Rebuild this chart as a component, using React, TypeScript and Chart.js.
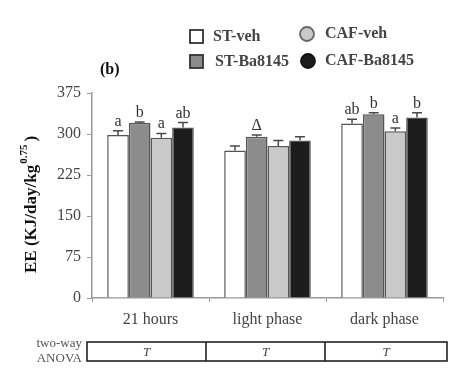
import React, { useEffect, useRef } from "react";
import { Chart, registerables } from "chart.js";

Chart.register(...registerables);

const categories = ["21 hours", "light phase", "dark phase"];
const seriesNames = ["ST-veh", "ST-Ba8145", "CAF-veh", "CAF-Ba8145"];
const stVeh = [298, 270, 319];
const stBa = [320, 295, 336];
const cafVeh = [293, 278, 305];
const cafBa = [312, 288, 330];
const stVehErr = [8, 8, 8];
const stBaErr = [2, 3, 3];
const cafVehErr = [8, 10, 6];
const cafBaErr = [9, 7, 9];
const sigLabels = [
  ["a", "", "ab"],
  ["b", "\u0394", "b"],
  ["a", "", "a"],
  ["ab", "", "b"],
];
const yTicks = [0, 75, 150, 225, 300, 375];
const anovaCells = ["T", "T", "T"];

const fills = ["#ffffff", "#8c8c8c", "#c9c9c9", "#1c1c1c"];
const SERIF = "'Liberation Serif', 'DejaVu Serif', serif";

export default function App() {
  const ref = useRef<HTMLCanvasElement | null>(null);
  useEffect(() => {
    const canvas = ref.current;
    if (!canvas) return;
    const values = [stVeh, stBa, cafVeh, cafBa];
    const errs = [stVehErr, stBaErr, cafVehErr, cafBaErr];

    const overlay = {
      id: "overlay",
      afterDatasetsDraw(chart: any) {
        const ctx = chart.ctx;
        const y = chart.scales.y;
        ctx.save();
        values.forEach((vals, di) => {
          const meta = chart.getDatasetMeta(di);
          meta.data.forEach((bar: any, i: number) => {
            const top = y.getPixelForValue(vals[i]);
            const et = y.getPixelForValue(vals[i] + errs[di][i]);
            ctx.strokeStyle = "#4a4a4a";
            ctx.lineWidth = 1.5;
            ctx.beginPath();
            ctx.moveTo(bar.x, top);
            ctx.lineTo(bar.x, et);
            ctx.moveTo(bar.x - 5, et);
            ctx.lineTo(bar.x + 5, et);
            ctx.stroke();
            const lab = sigLabels[di][i];
            if (lab) {
              ctx.fillStyle = "#333";
              ctx.font = `16px ${SERIF}`;
              ctx.textAlign = "center";
              ctx.textBaseline = "alphabetic";
              ctx.fillText(lab, bar.x, et - 5);
            }
          });
        });
        ctx.restore();
      },
      afterDraw(chart: any) {
        const ctx = chart.ctx;
        const x = chart.scales.x;
        const area = chart.chartArea;
        ctx.save();
        // y title
        ctx.translate(32, 205);
        ctx.rotate(-Math.PI / 2);
        ctx.fillStyle = "#111";
        ctx.textBaseline = "middle";
        const main = "EE (KJ/day/kg";
        const sup = "0.75";
        const close = ")";
        const mainFont = `bold 17px ${SERIF}`;
        const supFont = `bold 11px ${SERIF}`;
        ctx.font = mainFont;
        const w1 = ctx.measureText(main).width;
        ctx.font = supFont;
        const w2 = ctx.measureText(sup).width + 3;
        ctx.font = mainFont;
        const w3 = ctx.measureText(close).width;
        let sx = -(w1 + w2 + w3) / 2;
        ctx.textAlign = "left";
        ctx.fillText(main, sx, 0);
        sx += w1 + 1;
        ctx.font = supFont;
        ctx.fillText(sup, sx, -8);
        sx += w2;
        ctx.font = mainFont;
        ctx.fillText(close, sx, 0);
        ctx.restore();

        ctx.save();
        // (b)
        ctx.fillStyle = "#111";
        ctx.font = `bold 16px ${SERIF}`;
        ctx.textAlign = "left";
        ctx.textBaseline = "alphabetic";
        ctx.fillText("(b)", 100, 74);

        // legend
        ctx.lineWidth = 1.8;
        ctx.strokeStyle = "#333";
        ctx.fillStyle = fills[0];
        ctx.fillRect(190, 30, 13, 13);
        ctx.strokeRect(190, 30, 13, 13);
        ctx.fillStyle = fills[1];
        ctx.fillRect(190, 55, 13, 13);
        ctx.strokeRect(190, 55, 13, 13);
        ctx.beginPath();
        ctx.arc(307, 34, 7, 0, Math.PI * 2);
        ctx.fillStyle = fills[2];
        ctx.fill();
        ctx.strokeStyle = "#666";
        ctx.stroke();
        ctx.beginPath();
        ctx.arc(308, 61, 7, 0, Math.PI * 2);
        ctx.fillStyle = fills[3];
        ctx.fill();
        ctx.strokeStyle = "#111";
        ctx.stroke();
        ctx.fillStyle = "#444";
        ctx.font = `bold 16px ${SERIF}`;
        ctx.textBaseline = "middle";
        ctx.fillText(seriesNames[0], 213, 37);
        ctx.fillText(seriesNames[1], 215, 62);
        ctx.fillText(seriesNames[2], 325, 34);
        ctx.fillText(seriesNames[3], 325, 61);

        // ANOVA table
        const bx0 = area.left - 5;
        const bx1 = area.right + 4;
        const by0 = 342;
        const by1 = 361;
        const step = x.getPixelForValue(1) - x.getPixelForValue(0);
        const divs = [x.getPixelForValue(0) + step / 2 - 3, x.getPixelForValue(1) + step / 2 - 1];
        ctx.strokeStyle = "#222";
        ctx.lineWidth = 1.6;
        ctx.strokeRect(bx0, by0, bx1 - bx0, by1 - by0);
        ctx.beginPath();
        divs.forEach((d) => {
          ctx.moveTo(d, by0);
          ctx.lineTo(d, by1);
        });
        ctx.stroke();
        const edges = [bx0, divs[0], divs[1], bx1];
        ctx.fillStyle = "#444";
        ctx.font = `italic 13px ${SERIF}`;
        ctx.textAlign = "center";
        ctx.textBaseline = "middle";
        anovaCells.forEach((t, i) => {
          ctx.fillText(t, (edges[i] + edges[i + 1]) / 2, (by0 + by1) / 2 + 1);
        });
        ctx.fillStyle = "#555";
        ctx.font = `13px ${SERIF}`;
        ctx.textAlign = "right";
        ctx.fillText("two-way", 82, 344);
        ctx.fillText("ANOVA", 82, 359);
        ctx.restore();
      },
    };

    const chart = new Chart(canvas, {
      type: "bar",
      data: {
        labels: categories,
        datasets: values.map((v, i) => ({
          label: seriesNames[i],
          data: v,
          backgroundColor: fills[i],
          borderColor: "#555",
          borderWidth: 1.5,
          categoryPercentage: 0.74,
          barPercentage: 1.0,
        })),
      },
      options: {
        animation: false,
        responsive: false,
        maintainAspectRatio: false,
        layout: { padding: { top: 93, right: 19, left: 0, bottom: 0 } },
        plugins: { legend: { display: false }, tooltip: { enabled: false } },
        scales: {
          x: {
            grid: { drawOnChartArea: false, tickLength: 4, color: "#999", offset: true },
            border: { color: "#999", width: 1.5 },
            ticks: {
              color: "#444",
              font: { family: SERIF, size: 16 },
              padding: 8,
            },
            afterFit: (s: any) => {
              s.height = 78;
            },
          },
          y: {
            min: 0,
            max: 375,
            afterBuildTicks: (s: any) => {
              s.ticks = yTicks.map((v) => ({ value: v }));
            },
            grid: { drawOnChartArea: false, tickLength: 5, color: "#999" },
            border: { color: "#999", width: 1.5 },
            ticks: {
              color: "#444",
              font: { family: SERIF, size: 16 },
              padding: 6,
            },
            afterFit: (s: any) => {
              s.width = 92;
            },
          },
        },
      },
      plugins: [overlay],
    } as any);
    return () => chart.destroy();
  }, []);

  return (
    <div style={{ position: "fixed", left: 0, top: 0, width: 462, height: 376, background: "#fff" }}>
      <canvas ref={ref} width={462} height={376} style={{ width: 462, height: 376, display: "block" }} />
    </div>
  );
}
